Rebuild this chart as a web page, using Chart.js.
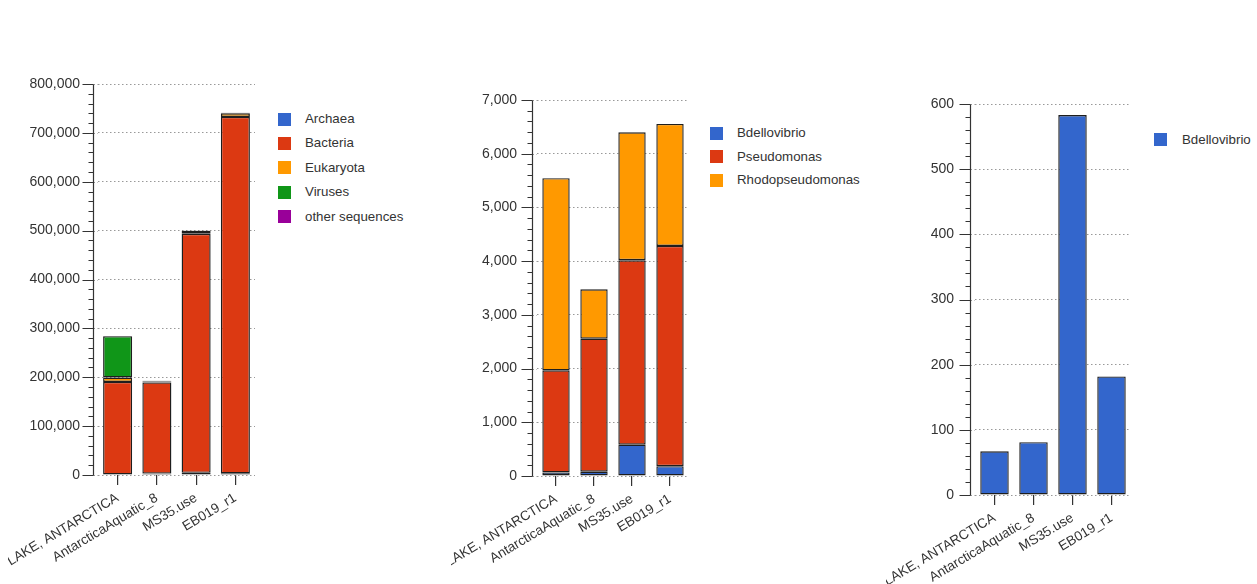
<!DOCTYPE html>
<html><head><meta charset="utf-8">
<script src="https://cdn.jsdelivr.net/npm/chart.js@4.4.1/dist/chart.umd.min.js"></script>
<style>
html,body{margin:0;padding:0;background:#fff;width:1257px;height:584px;overflow:hidden;font-family:"Liberation Sans",Arial,sans-serif;}
canvas{position:absolute;top:0;}
.lg{position:absolute;font-size:13.3px;color:#333;white-space:nowrap;line-height:16px;height:16px;}
.sw{position:absolute;width:13px;height:13px;}
</style></head><body>
<canvas id="c1"></canvas>
<canvas id="c2"></canvas>
<canvas id="c3"></canvas>
<div id="legends"></div>
<script>
// ---------- data ----------
const categories = ['PONY LAKE, ANTARCTICA', 'AntarcticaAquatic_8', 'MS35.use', 'EB019_r1'];

const domainNames = ['Archaea', 'Bacteria', 'Eukaryota', 'Viruses', 'other sequences'];
const archaea   = [1200, 3000, 4500, 3500];
const bacteria  = [189300, 186500, 489000, 729200];
const eukaryota = [9000, 1800, 5500, 7300];
const viruses   = [84500, 800, 800, 500];
const otherSeq  = [300, 700, 600, 500];
const domainTicks = [0, 100000, 200000, 300000, 400000, 500000, 600000, 700000, 800000];

const genusNames = ['Bdellovibrio', 'Pseudomonas', 'Rhodopseudomonas'];
const bdellovibrio     = [67, 81, 583, 182];
const pseudomonas      = [1900, 2476, 3434, 4101];
const rhodopseudomonas = [3577, 920, 2383, 2272];
const genusTicks = [0, 1000, 2000, 3000, 4000, 5000, 6000, 7000];

const speciesNames = ['Bdellovibrio'];
const bdelloOnly = [67, 81, 583, 182];
const speciesTicks = [0, 100, 200, 300, 400, 500, 600];

// ---------- styles ----------
const BLUE = '#3366CC', RED = '#DC3912', ORANGE = '#FF9900', GREEN = '#109618', PURPLE = '#990099';
const FONT = '"Liberation Sans", Arial, sans-serif';
const TXT = '#333';
Chart.defaults.font.family = FONT;
Chart.defaults.font.size = 13.3;
Chart.defaults.color = TXT;

const axisPlugin = {
  id: 'leftAxis',
  afterDraw(chart, args, o) {
    const ys = chart.scales.y, ctx = chart.ctx, ca = chart.chartArea;
    const ax = Math.round(ca.left - o.gap) + 0.5;
    ctx.save();
    ctx.strokeStyle = '#999'; ctx.lineWidth = 1; ctx.setLineDash([1.5, 2.5]);
    ctx.beginPath();
    o.ticks.forEach(v => { const py = Math.round(ys.getPixelForValue(v)) + 0.5; ctx.moveTo(ax, py); ctx.lineTo(ca.left, py); });
    ctx.stroke();
    ctx.setLineDash([]);
    ctx.strokeStyle = '#333'; ctx.lineWidth = 1.2;
    ctx.beginPath();
    const top = Math.round(ys.getPixelForValue(ys.max)) + 0.5, bot = Math.round(ys.getPixelForValue(ys.min)) + 0.5;
    ctx.moveTo(ax, top); ctx.lineTo(ax, bot);
    const n = Math.round((ys.max - ys.min) / o.minor);
    for (let i = 0; i <= n; i++) {
      const v = ys.min + i * o.minor;
      const py = Math.round(ys.getPixelForValue(v)) + 0.5;
      const major = o.ticks.includes(v);
      ctx.moveTo(ax - (major ? 11 : 5), py); ctx.lineTo(ax, py);
    }
    ctx.stroke();
    ctx.restore();
  }
};

function makeChart(id, cfg) {
  const cv = document.getElementById(id);
  const w = Math.round(cfg.plotRight - cfg.canvasLeft);
  cv.width = w; cv.height = 584;
  cv.style.left = cfg.canvasLeft + 'px';
  cv.style.width = w + 'px'; cv.style.height = '584px';
  const ticks = cfg.ticks;
  return new Chart(cv, {
    type: 'bar',
    data: {
      labels: categories,
      datasets: cfg.series.map(s => ({
        label: s.label, data: s.data,
        backgroundColor: s.color, borderColor: '#1e1e1e', borderWidth: 1.4,
        borderSkipped: false, barPercentage: cfg.barFrac, categoryPercentage: 1
      }))
    },
    options: {
      responsive: false, animation: false, devicePixelRatio: 1, locale: 'en-US',
      layout: { padding: { left: 0, top: cfg.plotTop, right: 0, bottom: 0 } },
      plugins: { legend: { display: false }, tooltip: { enabled: false },
        leftAxis: { gap: cfg.gap, ticks: ticks, minor: cfg.minor } },
      scales: {
        x: {
          stacked: cfg.stacked,
          grid: { display: true, drawOnChartArea: false, drawTicks: true, tickLength: 10, tickColor: '#333', offset: false, lineWidth: 1.2 },
          border: { display: false },
          ticks: { padding: 5, color: TXT, maxRotation: 31, minRotation: 31, autoSkip: false, font: { size: 13.5 } },
          afterFit: s => { s.height = 584 - cfg.plotBottom; s.paddingLeft = 0; s.paddingRight = 0; }
        },
        y: {
          stacked: cfg.stacked,
          min: ticks[0], max: ticks[ticks.length - 1],
          afterBuildTicks: s => { s.ticks = ticks.map(v => ({ value: v })); },
          grid: { drawTicks: false, color: '#999', lineWidth: 1 },
          border: { display: false, dash: [1.5, 2.5] },
          ticks: { padding: cfg.labelPad, color: TXT, font: { size: 14 } },
          afterFit: s => { s.width = cfg.plotLeft - cfg.canvasLeft; }
        }
      }
    },
    plugins: [axisPlugin]
  });
}

makeChart('c1', {
  canvasLeft: 8, plotLeft: 98, plotRight: 255, plotTop: 84, plotBottom: 475,
  gap: 5, labelPad: 18, minor: 20000, ticks: domainTicks, barFrac: 0.74, stacked: true,
  series: [
    { label: domainNames[0], data: archaea, color: BLUE },
    { label: domainNames[1], data: bacteria, color: RED },
    { label: domainNames[2], data: eukaryota, color: ORANGE },
    { label: domainNames[3], data: viruses, color: GREEN },
    { label: domainNames[4], data: otherSeq, color: PURPLE }
  ]
});
makeChart('c2', {
  canvasLeft: 451, plotLeft: 537, plotRight: 689, plotTop: 100, plotBottom: 476,
  gap: 5, labelPad: 20, minor: 200, ticks: genusTicks, barFrac: 0.72, stacked: true,
  series: [
    { label: genusNames[0], data: bdellovibrio, color: BLUE },
    { label: genusNames[1], data: pseudomonas, color: RED },
    { label: genusNames[2], data: rhodopseudomonas, color: ORANGE }
  ]
});
makeChart('c3', {
  canvasLeft: 886, plotLeft: 975, plotRight: 1131, plotTop: 104, plotBottom: 495,
  gap: 5, labelPad: 21, minor: 20, ticks: speciesTicks, barFrac: 0.73, stacked: false,
  series: [ { label: speciesNames[0], data: bdelloOnly, color: BLUE } ]
});

// ---------- legends ----------
function legend(names, colors, swLeft, textLeft, firstCenter, step) {
  const box = document.getElementById('legends');
  names.forEach((n, i) => {
    const cy = firstCenter + i * step;
    const sw = document.createElement('div');
    sw.className = 'sw'; sw.style.left = swLeft + 'px'; sw.style.top = (cy - 6.5) + 'px'; sw.style.background = colors[i];
    box.appendChild(sw);
    const t = document.createElement('div');
    t.className = 'lg'; t.textContent = n; t.style.left = textLeft + 'px'; t.style.top = (cy - 8) + 'px';
    box.appendChild(t);
  });
}
legend(domainNames, [BLUE, RED, ORANGE, GREEN, PURPLE], 278, 305, 119, 24.4);
legend(genusNames, [BLUE, RED, ORANGE], 710, 737, 133, 23.7);
legend(speciesNames, [BLUE], 1154, 1182, 139.5, 24);
</script>
</body></html>
